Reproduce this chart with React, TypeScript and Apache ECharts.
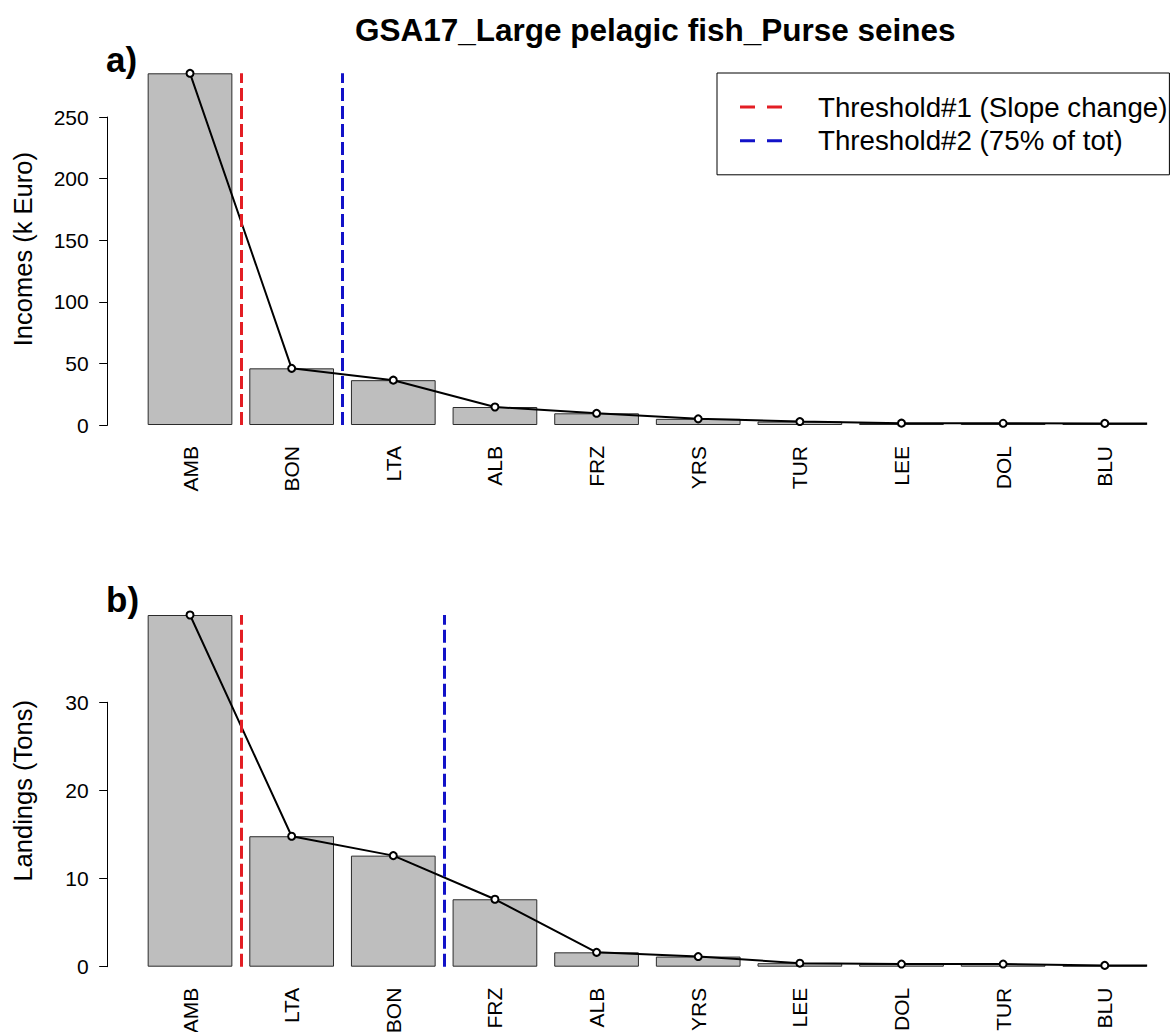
import React, { useEffect, useRef } from "react";
import * as echarts from "echarts";

// ---- data ----
const incomeSpecies = ["AMB", "BON", "LTA", "ALB", "FRZ", "YRS", "TUR", "LEE", "DOL", "BLU"];
const incomeValues = [285.5, 46, 36.4, 14.6, 9.5, 5.0, 2.8, 1.5, 1.4, 1.3];
const incomeTicks = { max: 250, step: 50 };
const incomeThresholds = [1, 2]; // boundaries between categories

const landingSpecies = ["AMB", "LTA", "BON", "FRZ", "ALB", "YRS", "LEE", "DOL", "TUR", "BLU"];
const landingValues = [39.9, 14.8, 12.6, 7.65, 1.63, 1.15, 0.4, 0.3, 0.3, 0.15];
const landingTicks = { max: 30, step: 10 };
const landingThresholds = [1, 3];

const mainTitle = "GSA17_Large pelagic fish_Purse seines";
const thr1Name = "Threshold#1 (Slope change)";
const thr2Name = "Threshold#2 (75% of tot)";

// ---- layout / style ----
const W = 1173;
const H = 1032;
const AXIS_X = 107.7;
const PLOT_LEFT = 139.2;
const PLOT_RIGHT_GAP = 17.4;
const PLOT_H = 351.7;
const TOP_PLOT_TOP = 73.3;
const BOT_PLOT_TOP = 615;
const BAR_FRAC = 0.8333;
const FONT = "'Liberation Sans', Arial, sans-serif";
const RED = "#E31E24";
const BLUE = "#1212C8";
const DASH = [13, 5];

const legendIcon =
  "path://M0,0H15V3H0Z M27,0H42V3H27Z M72.98,0H73V0.02H72.98Z";

function lineData(vals: number[]) {
  const pts: any[] = vals.map((v, i) => [i + 0.5, v]);
  pts.push({ value: [vals.length - 0.5 + BAR_FRAC / 2, vals[vals.length - 1]], symbol: "none" });
  return pts;
}

function buildPanel(
  base: number,
  plotTop: number,
  cats: string[],
  vals: number[],
  ticks: { max: number; step: number },
  thresholds: number[],
  yName: string,
  nameGap: number
) {
  const yMax = Math.max(...vals);
  const aTop = plotTop + PLOT_H * (1 - ticks.max / yMax);
  const aHeight = PLOT_H * (ticks.max / yMax);
  const gA = base * 2;
  const gB = base * 2 + 1;
  const grids = [
    { left: AXIS_X, width: 1, top: aTop, height: aHeight, outerBoundsMode: "none", containLabel: false },
    {
      left: PLOT_LEFT,
      right: PLOT_RIGHT_GAP,
      top: plotTop,
      height: PLOT_H,
      outerBoundsMode: "none",
      containLabel: false,
    },
  ];
  const xAxes = [
    { type: "value", gridIndex: gA, min: 0, max: 1, show: false },
    {
      type: "category",
      gridIndex: gB,
      data: cats,
      boundaryGap: true,
      axisLine: { show: false },
      axisTick: { show: false },
      axisLabel: {
        interval: 0,
        rotate: 90,
        margin: 21,
        fontFamily: FONT,
        fontSize: 21,
        color: "#000",
      },
    },
    { type: "value", gridIndex: gB, min: 0, max: cats.length, show: false },
  ];
  const yAxes = [
    {
      type: "value",
      gridIndex: gA,
      min: 0,
      max: ticks.max,
      interval: ticks.step,
      axisLine: { show: true, lineStyle: { color: "#000", width: 1 } },
      axisTick: { show: true, length: 8.5, lineStyle: { color: "#000", width: 1 } },
      axisLabel: { margin: 19, fontFamily: FONT, fontSize: 21, color: "#000" },
      splitLine: { show: false },
    },
    {
      type: "value",
      gridIndex: gB,
      min: 0,
      max: yMax,
      axisLine: { show: false },
      axisTick: { show: false },
      axisLabel: { show: false },
      splitLine: { show: false },
      name: yName,
      nameLocation: "middle",
      nameGap: nameGap,
      nameTextStyle: { fontFamily: FONT, fontSize: 25.5, color: "#000" },
    },
  ];
  const xCat = base * 3 + 1;
  const xVal = base * 3 + 2;
  const yB = base * 2 + 1;
  const series: any[] = [
    {
      type: "bar",
      xAxisIndex: xCat,
      yAxisIndex: yB,
      data: vals,
      barWidth: (BAR_FRAC * 100).toFixed(2) + "%",
      itemStyle: { color: "#BEBEBE", borderColor: "#2b2b2b", borderWidth: 1 },
      silent: true,
      z: 2,
    },
    {
      type: "line",
      name: thr1Name,
      xAxisIndex: xVal,
      yAxisIndex: yB,
      data: [],
      color: RED,
      lineStyle: { color: RED, width: 3, type: DASH },
      markLine: {
        silent: true,
        symbol: ["none", "none"],
        label: { show: false },
        lineStyle: { color: RED, width: 3, type: DASH },
        data: [{ xAxis: thresholds[0] }],
      },
      z: 3,
    },
    {
      type: "line",
      name: thr2Name,
      xAxisIndex: xVal,
      yAxisIndex: yB,
      data: [],
      color: BLUE,
      lineStyle: { color: BLUE, width: 3, type: DASH },
      markLine: {
        silent: true,
        symbol: ["none", "none"],
        label: { show: false },
        lineStyle: { color: BLUE, width: 3, type: DASH },
        data: [{ xAxis: thresholds[1] }],
      },
      z: 3,
    },
    {
      type: "line",
      xAxisIndex: xVal,
      yAxisIndex: yB,
      data: lineData(vals),
      symbol: "emptyCircle",
      symbolSize: 7,
      color: "#000",
      itemStyle: { color: "#000", borderColor: "#000", borderWidth: 1.6 },
      lineStyle: { color: "#000", width: 2 },
      silent: true,
      z: 4,
    },
  ];
  return { grids, xAxes, yAxes, series };
}

export default function App() {
  const ref = useRef<HTMLDivElement>(null);
  useEffect(() => {
    if (!ref.current) return;
    const chart = echarts.init(ref.current, null, { renderer: "svg", width: W, height: H });
    const top = buildPanel(0, TOP_PLOT_TOP, incomeSpecies, incomeValues, incomeTicks, incomeThresholds, "Incomes (k Euro)", 103);
    const bot = buildPanel(1, BOT_PLOT_TOP, landingSpecies, landingValues, landingTicks, landingThresholds, "Landings (Tons)", 103);
    chart.setOption({
      animation: false,
      backgroundColor: "#fff",
      title: [
        {
          text: mainTitle,
          left: 355,
          top: 14,
          padding: 0,
          textStyle: { fontFamily: FONT, fontSize: 31.5, fontWeight: "bold", color: "#000" },
        },
        {
          text: "a)",
          left: 106,
          top: 42,
          padding: 0,
          textStyle: { fontFamily: FONT, fontSize: 35, fontWeight: "bold", color: "#000" },
        },
        {
          text: "b)",
          left: 106,
          top: 582,
          padding: 0,
          textStyle: { fontFamily: FONT, fontSize: 35, fontWeight: "bold", color: "#000" },
        },
      ],
      legend: {
        orient: "vertical",
        left: 717,
        top: 73,
        padding: [20, 2, 20, 23],
        itemGap: 5.8,
        itemWidth: 73,
        itemHeight: 3,
        selectedMode: false,
        borderColor: "#000",
        borderWidth: 1,
        borderRadius: 0,
        backgroundColor: "#fff",
        itemStyle: { borderWidth: 0 },
        textStyle: { fontFamily: FONT, fontSize: 27.7, color: "#000", padding: 0 },
        data: [
          { name: thr1Name, icon: legendIcon },
          { name: thr2Name, icon: legendIcon },
        ],
      },
      grid: [...top.grids, ...bot.grids],
      xAxis: [...top.xAxes, ...bot.xAxes],
      yAxis: [...top.yAxes, ...bot.yAxes],
      series: [...top.series, ...bot.series],
    });
    return () => chart.dispose();
  }, []);
  return (
    <div
      ref={ref}
      style={{ position: "fixed", left: 0, top: 0, width: W, height: H, background: "#fff" }}
    />
  );
}
